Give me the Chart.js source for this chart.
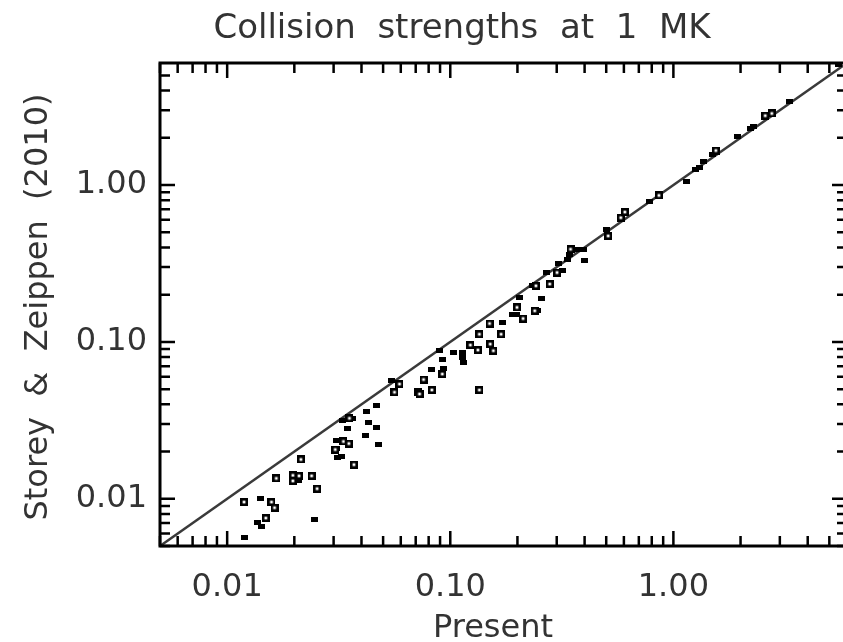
<!DOCTYPE html>
<html lang="en">
<head>
<meta charset="UTF-8" />
<title>Collision strengths at 1 MK</title>
<script src="https://cdn.jsdelivr.net/npm/chart.js"></script>
<style>
  body { margin: 0; padding: 0; background: #fff; overflow: hidden; }
  #wrap { width: 843px; height: 642px; overflow: hidden; }
  canvas { display: block; }
</style>
</head>
<body>
<div id="wrap"><canvas id="chart" width="852" height="642"></canvas></div>
<script>
const titleText = 'Collision  strengths  at  1  MK';
const xTitle = 'Present';
const yTitle = 'Storey  &  Zeippen  (2010)';
const majorTicks = [0.01, 0.1, 1];
const axisMin = 0.005;
const axisMax = 6;

// open squares
const openX = [0.0119, 0.0158, 0.0163, 0.0149, 0.0166, 0.0197, 0.0210, 0.0197, 0.0214, 0.0239,
  0.0253, 0.0305, 0.0332, 0.0351, 0.0370, 0.0353, 0.0592, 0.0562, 0.0759, 0.0719,
  0.0827, 0.0728, 0.0921, 0.123, 0.133, 0.135, 0.135, 0.150, 0.169, 0.151,
  0.156, 0.199, 0.212, 0.239, 0.242, 0.279, 0.301, 0.346, 0.510, 0.581,
  0.606, 0.861, 1.55, 2.58, 2.76];
const openY = [0.00953, 0.00953, 0.00877, 0.00754, 0.0135, 0.0141, 0.0140, 0.0130, 0.0178, 0.0140,
  0.0116, 0.0206, 0.0232, 0.0225, 0.0165, 0.0326, 0.0539, 0.0478, 0.0576, 0.0478,
  0.0494, 0.0466, 0.0624, 0.0955, 0.0888, 0.0494, 0.112, 0.131, 0.112, 0.0969,
  0.0879, 0.166, 0.141, 0.158, 0.228, 0.234, 0.277, 0.390, 0.474, 0.620,
  0.673, 0.859, 1.66, 2.77, 2.86];

// filled squares
const filledX = [0.0120, 0.0141, 0.0137, 0.0143, 0.0246, 0.0209, 0.0308, 0.0308, 0.0313, 0.0324,
  0.0416, 0.0477, 0.0468, 0.0431, 0.0420, 0.0465, 0.0330, 0.0365, 0.0345, 0.0544,
  0.0827, 0.0921, 0.0895, 0.0933, 0.103, 0.113, 0.115, 0.114, 0.171, 0.205,
  0.256, 0.198, 0.191, 0.247, 0.233, 0.270, 0.320, 0.304, 0.334, 0.368,
  0.394, 0.341, 0.398, 0.500, 0.779, 1.14, 1.25, 1.31, 1.37, 1.50,
  1.94, 2.21, 2.28, 3.31, 5.49];
const filledY = [0.00563, 0.0101, 0.00704, 0.00661, 0.00739, 0.0131, 0.0235, 0.0208, 0.0184, 0.0187,
  0.0253, 0.0221, 0.0285, 0.0308, 0.0362, 0.0393, 0.0315, 0.0326, 0.0282, 0.0566,
  0.0665, 0.0778, 0.0879, 0.0679, 0.0858, 0.0858, 0.0734, 0.0801, 0.133, 0.192,
  0.189, 0.150, 0.150, 0.158, 0.228, 0.277, 0.284, 0.317, 0.333, 0.390,
  0.386, 0.362, 0.330, 0.519, 0.787, 1.06, 1.25, 1.29, 1.41, 1.57,
  2.03, 2.28, 2.35, 3.42, 5.85];

// one-to-one line
const lineX = [0.005, 6];
const lineY = [0.005, 6];

const pts = (xs, ys) => xs.map((x, i) => ({ x: x, y: ys[i] }));

function makeMarker(w, h, hole) {
  const c = document.createElement('canvas');
  c.width = w; c.height = h;
  const g = c.getContext('2d');
  g.fillStyle = '#000';
  g.fillRect(0, 0, w, h);
  if (hole) {
    g.fillStyle = '#fff';
    g.fillRect(hole, hole, w - 2 * hole, h - 2 * hole);
  }
  return c;
}
const openMark = makeMarker(8, 8, 2.6);
const filledMark = makeMarker(7, 5, 0);

// minor tick values between the decades
const minorTicks = [];
[0.001, 0.01, 0.1, 1].forEach(d => {
  for (let k = 2; k <= 9; k++) {
    const v = k * d;
    if (v > axisMin && v < axisMax) minorTicks.push(v);
  }
});
minorTicks.push(0.005);

const textColor = '#333';
const labelFont = { family: '"DejaVu Sans", sans-serif', size: 32 };

const framePlugin = {
  id: 'frame',
  afterDraw(chart) {
    const ctx = chart.ctx;
    const a = chart.chartArea;
    const xs = chart.scales.x, ys = chart.scales.y;
    ctx.save();
    ctx.strokeStyle = '#000';
    ctx.lineWidth = 3;
    ctx.strokeRect(a.left, a.top, a.right - a.left, a.bottom - a.top);

    ctx.lineWidth = 2.5;
    ctx.beginPath();
    const tick = (v, len) => {
      const px = xs.getPixelForValue(v);
      const py = ys.getPixelForValue(v);
      if (px >= a.left && px <= a.right) {
        ctx.moveTo(px, a.bottom); ctx.lineTo(px, a.bottom - len);
        ctx.moveTo(px, a.top); ctx.lineTo(px, a.top + len);
      }
      if (py >= a.top && py <= a.bottom) {
        ctx.moveTo(a.left, py); ctx.lineTo(a.left + len, py);
        ctx.moveTo(a.right, py); ctx.lineTo(a.right - len, py);
      }
    };
    majorTicks.forEach(v => tick(v, 15));
    minorTicks.forEach(v => tick(v, 10));
    ctx.stroke();

    ctx.fillStyle = textColor;
    ctx.textAlign = 'center';
    ctx.textBaseline = 'alphabetic';
    ctx.font = '34px "DejaVu Sans", sans-serif';
    ctx.fillText(titleText, 462, 38);
    ctx.font = '32px "DejaVu Sans", sans-serif';
    ctx.fillText(xTitle, 493, 637);
    ctx.translate(47, 307);
    ctx.rotate(-Math.PI / 2);
    ctx.fillText(yTitle, 0, 0);
    ctx.restore();
  }
};

new Chart(document.getElementById('chart'), {
  type: 'scatter',
  data: {
    datasets: [
      {
        label: 'open',
        data: pts(openX, openY),
        pointStyle: openMark,
        pointRadius: 4,
        clip: false
      },
      {
        label: 'filled',
        data: pts(filledX, filledY),
        pointStyle: filledMark,
        pointRadius: 4,
        clip: false
      },
      {
        label: 'one to one',
        data: pts(lineX, lineY),
        showLine: true,
        pointRadius: 0,
        borderColor: '#3a3a3a',
        borderWidth: 2.5
      }
    ]
  },
  options: {
    responsive: false,
    animation: false,
    layout: { padding: { top: 63, right: 5, left: 0, bottom: 0 } },
    plugins: {
      legend: { display: false },
      tooltip: { enabled: false },
      title: { display: false }
    },
    scales: {
      x: {
        type: 'logarithmic',
        min: axisMin,
        max: axisMax,
        grid: { display: false, drawTicks: false },
        border: { display: false },
        afterBuildTicks: s => { s.ticks = majorTicks.map(v => ({ value: v })); },
        afterFit: s => { s.height = 96; },
        ticks: {
          callback: v => Number(v).toFixed(2),
          font: labelFont,
          color: textColor,
          padding: 22,
          maxRotation: 0,
          autoSkip: false
        }
      },
      y: {
        type: 'logarithmic',
        min: axisMin,
        max: axisMax,
        grid: { display: false, drawTicks: false },
        border: { display: false },
        afterBuildTicks: s => { s.ticks = majorTicks.map(v => ({ value: v })); },
        afterFit: s => { s.width = 160; },
        ticks: {
          callback: v => Number(v).toFixed(2),
          font: labelFont,
          color: textColor,
          padding: 13,
          autoSkip: false
        }
      }
    }
  },
  plugins: [framePlugin]
});
</script>
</body>
</html>
